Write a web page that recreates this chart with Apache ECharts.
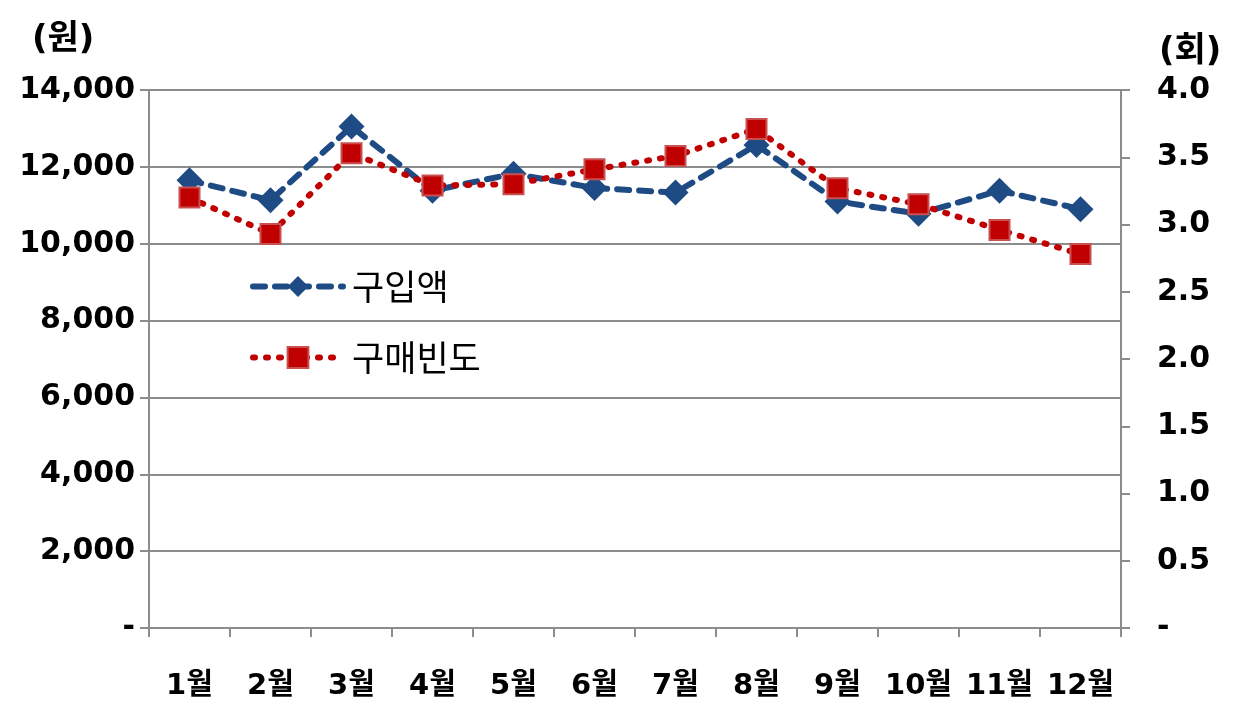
<!DOCTYPE html>
<html><head><meta charset="utf-8">
<script src="https://cdn.jsdelivr.net/npm/echarts@6/dist/echarts.min.js"></script>
<style>html,body{margin:0;padding:0;background:#fff}#c{width:1238px;height:720px}</style>
</head><body><div id="c"></div>
<script>
const months = ['1월','2월','3월','4월','5월','6월','7월','8월','9월','10월','11월','12월'];
const amount = [11650, 11130, 13050, 11380, 11820, 11450, 11330, 12570, 11100, 10780, 11380, 10900];
const freq = [3.20, 2.93, 3.53, 3.29, 3.30, 3.41, 3.51, 3.71, 3.27, 3.15, 2.96, 2.78];
const seriesNames = ['구입액', '구매빈도'];
const leftUnit = '(원)';
const rightUnit = '(회)';

const FONT = 'DejaVu Sans, Noto Sans CJK KR, sans-serif';
const chart = echarts.init(document.getElementById('c'));
chart.setOption({
  backgroundColor: '#fff',
  animation: false,
  title: [
    {text: leftUnit, left: 27, top: 18, textStyle: {fontFamily: FONT, fontSize: 34, fontWeight: 'bold', color: '#000'}},
    {text: rightUnit, left: 1154, top: 30, textStyle: {fontFamily: FONT, fontSize: 34, fontWeight: 'bold', color: '#000'}}
  ],
  grid: {left: 149, right: 117, top: 90, bottom: 92, containLabel: false},
  legend: {
    orient: 'vertical', left: 245, top: 264, itemWidth: 90, itemHeight: 26, itemGap: 36,
    lineStyle: {width: 6},
    textStyle: {fontFamily: 'Noto Sans CJK KR', fontSize: 35, color: '#000', padding: [0,0,0,4]},
    data: seriesNames
  },
  xAxis: {
    type: 'category', data: months, boundaryGap: true,
    axisLine: {lineStyle: {color: '#8c8c8c', width: 2}},
    axisTick: {show: true, interval: 0, length: 9, lineStyle: {color: '#8c8c8c', width: 2}},
    axisLabel: {interval: 0, fontFamily: FONT, fontSize: 29, fontWeight: 'bold', color: '#000', margin: 44}
  },
  yAxis: [
    {type: 'value', min: 0, max: 14000, interval: 2000, position: 'left',
     axisLine: {show: true, lineStyle: {color: '#8c8c8c', width: 2}},
     axisTick: {show: true, length: 9, lineStyle: {color: '#8c8c8c', width: 2}},
     splitLine: {show: true, lineStyle: {color: '#8c8c8c', width: 2}},
     axisLabel: {fontFamily: FONT, fontSize: 30, fontWeight: 'bold', color: '#000', margin: 14,
       formatter: v => v === 0 ? '-' : v.toLocaleString('en-US')}},
    {type: 'value', min: 0, max: 4, interval: 0.5, position: 'right',
     axisLine: {show: true, lineStyle: {color: '#8c8c8c', width: 2}},
     axisTick: {show: true, length: 9, lineStyle: {color: '#8c8c8c', width: 2}},
     splitLine: {show: false},
     axisLabel: {fontFamily: FONT, fontSize: 30, fontWeight: 'bold', color: '#000', margin: 36,
       formatter: v => v === 0 ? '-' : v.toFixed(1)}}
  ],
  series: [
    {name: seriesNames[0], type: 'line', yAxisIndex: 0, data: amount,
     symbol: 'diamond', symbolSize: 26, z: 2,
     itemStyle: {color: '#1f4b85'},
     lineStyle: {color: '#1f4b85', width: 6, type: [12, 10], cap: 'round'}},
    {name: seriesNames[1], type: 'line', yAxisIndex: 1, data: freq,
     symbol: 'rect', symbolSize: 20, z: 3,
     itemStyle: {color: '#c00000', borderColor: '#c85050', borderWidth: 2},
     lineStyle: {color: '#c00000', width: 6, type: [2, 11], cap: 'round'}}
  ]
});
</script></body></html>
